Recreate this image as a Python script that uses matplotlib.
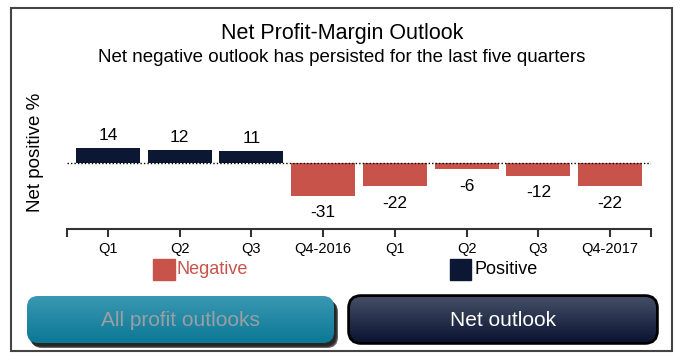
import numpy as np
import matplotlib
matplotlib.use('Agg')
import matplotlib.pyplot as plt
from matplotlib.patches import Rectangle, FancyBboxPatch
from matplotlib.colors import to_rgb

# data
quarters = ['Q1', 'Q2', 'Q3', 'Q4-2016', 'Q1', 'Q2', 'Q3', 'Q4-2017']
net_positive = [14, 12, 11, -31, -22, -6, -12, -22]

NAVY = '#0c1733'
RED = '#c8534a'
NARROW = ['Liberation Sans Narrow', 'Liberation Sans', 'DejaVu Sans']
W, H = 682, 363

fig = plt.figure(figsize=(W / 100, H / 100), dpi=100)

# overlay in pixel coords for frame, legend and buttons
ov = fig.add_axes([0, 0, 1, 1])
ov.set_xlim(0, W)
ov.set_ylim(H, 0)
ov.axis('off')

ov.add_patch(Rectangle((11, 8), 661, 343, fill=False, edgecolor='#444444', lw=1.5))

fig.text(342 / W, 1 - 33 / H, 'Net Profit-Margin Outlook', ha='center', va='center',
         fontsize=15.5, family=NARROW)
fig.text(342 / W, 1 - 57 / H, 'Net negative outlook has persisted for the last five quarters',
         ha='center', va='center', fontsize=13.5, family=NARROW)
fig.text(35 / W, 1 - 152 / H, 'Net positive %', rotation=90, ha='center', va='center',
         fontsize=13.5, family=['Liberation Sans', 'DejaVu Sans'])

# main bar chart
ax = fig.add_axes([67 / W, 1 - 228.5 / H, 584 / W, 148.5 / H])
ax.set_facecolor('none')
x = np.arange(len(quarters))
colors = [NAVY if v >= 0 else RED for v in net_positive]
ax.bar(x, net_positive, width=0.89, color=colors)
ax.axhline(0, color='black', lw=1, ls=(0, (1, 1.5)))
for xi, v in zip(x, net_positive):
    off = 9.5 if v >= 0 else -12.5
    ax.annotate(str(v), (xi, v), xytext=(0, off), textcoords='offset points',
                ha='center', va='center', fontsize=12.5, family=NARROW)
ax.set_xlim(-0.57, len(quarters) - 0.43)
ax.set_ylim(-62.4, 79)
ax.set_xticks(x)
ax.set_xticklabels(quarters, family=NARROW, fontsize=10.5)
ax.set_xticks([-0.57, len(quarters) - 0.43], minor=True)
ax.tick_params(axis='x', which='both', length=6, width=1.5, color='#333333', pad=4)
ax.set_yticks([])
for s in ['left', 'top', 'right']:
    ax.spines[s].set_visible(False)
ax.spines['bottom'].set_color('#333333')
ax.spines['bottom'].set_linewidth(1.5)

# legend
ov.add_patch(Rectangle((153, 259), 22, 21, color=RED))
ov.text(177, 270, 'Negative', color=RED, fontsize=13, va='center', family=NARROW)
ov.add_patch(Rectangle((450, 259), 21, 21, color=NAVY))
ov.text(474, 270, 'Positive', color='black', fontsize=13, va='center', family=NARROW)


def button(x0, y0, x1, y1, top, bottom, label, tcolor, edge=None, shadow=False):
    bs = 'round,pad=0,rounding_size=11'
    if shadow:
        for i, a in enumerate([0.3, 0.45, 0.6]):
            ov.add_patch(FancyBboxPatch((x0 + 2 + i, y0 + 3 + i), x1 - x0, y1 - y0,
                                        boxstyle=bs, color='black', alpha=a, lw=0))
    if edge:
        ov.add_patch(FancyBboxPatch((x0, y0), x1 - x0, y1 - y0, boxstyle=bs,
                                    facecolor=edge, edgecolor=edge, lw=4))
    p = FancyBboxPatch((x0, y0), x1 - x0, y1 - y0, boxstyle=bs, facecolor='none', lw=0)
    ov.add_patch(p)
    t = np.linspace(0, 1, 64)[:, None, None]
    grad = (1 - t) * np.array(to_rgb(top)) + t * np.array(to_rgb(bottom))
    im = ov.imshow(grad, extent=(x0, x1, y1, y0), aspect='auto', zorder=2)
    im.set_clip_path(p)
    ov.text((x0 + x1) / 2, (y0 + y1) / 2 + 1, label, color=tcolor, fontsize=15,
            ha='center', va='center', family=NARROW, zorder=3)


button(27, 296, 334, 343, '#3a98b2', '#0b7896', 'All profit outlooks', '#9a9fa2', shadow=True)
button(350, 297, 656, 342, '#434e66', '#0b1431', 'Net outlook', 'white', edge='black')
ov.set_xlim(0, W)
ov.set_ylim(H, 0)

fig.savefig('out.png', dpi=100)
